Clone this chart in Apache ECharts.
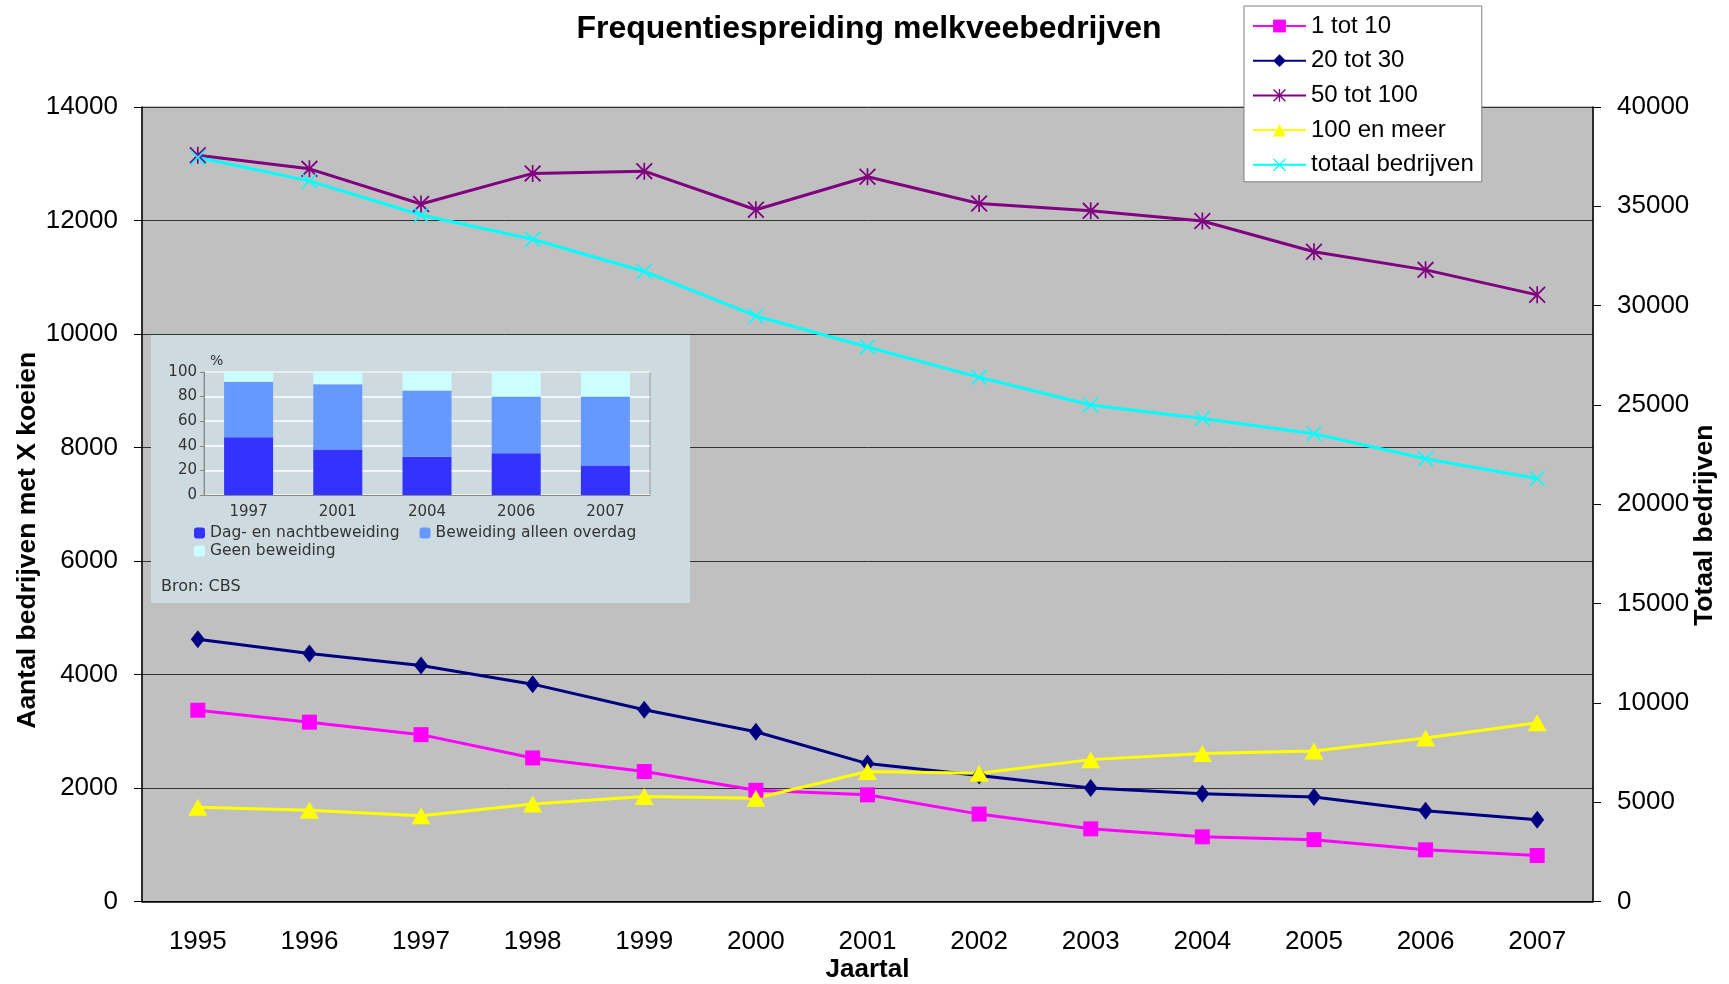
<!DOCTYPE html>
<html>
<head>
<meta charset="utf-8">
<script src="https://cdn.jsdelivr.net/npm/echarts@6/dist/echarts.min.js"></script>
<style>
  html, body { margin: 0; padding: 0; background: #fff; }
  #main { width: 1729px; height: 984px; }
</style>
</head>
<body>
<div id="main"></div>
<script>
// hoofdgrafiek
var jaren = ['1995', '1996', '1997', '1998', '1999', '2000', '2001', '2002', '2003', '2004', '2005', '2006', '2007'];
var tot1_10 = [3370, 3160, 2940, 2530, 2290, 1960, 1880, 1540, 1280, 1140, 1090, 910, 810];
var tot20_30 = [4620, 4370, 4160, 3830, 3380, 2990, 2430, 2220, 2000, 1900, 1840, 1600, 1440];
var tot50_100 = [13150, 12910, 12290, 12830, 12870, 12190, 12770, 12300, 12170, 11990, 11450, 11130, 10690];
var meer100 = [1660, 1610, 1510, 1720, 1850, 1820, 2290, 2260, 2500, 2610, 2650, 2880, 3150];
var totaal = [37460, 36280, 34560, 33340, 31720, 29480, 27920, 26390, 25000, 24320, 23550, 22290, 21300];

// ingevoegde grafiek (CBS)
var insetJaren = ['1997', '2001', '2004', '2006', '2007'];
var dagNacht = [47, 37, 31, 34, 24];
var overdag = [45, 53, 54, 46, 56];
var geen = [8, 10, 15, 20, 20];

var ster = 'path://M9,0 L11,0 L11,20 L9,20 Z M0,1.5 L1.5,0 L20,18.5 L18.5,20 Z M18.5,0 L20,1.5 L1.5,20 L0,18.5 Z';
var kruis = 'path://M0,1.4 L1.4,0 L20,18.6 L18.6,20 Z M18.6,0 L20,1.4 L1.4,20 L0,18.6 Z';

var font = 'Liberation Sans, Arial, sans-serif';
var insetFont = 'DejaVu Sans, Verdana, sans-serif';

var chart = echarts.init(document.getElementById('main'));

function lijn(name, data, color, symbol, size, yIdx) {
  return {
    name: name,
    type: 'line',
    yAxisIndex: yIdx,
    data: data,
    symbol: symbol,
    symbolSize: size,
    lineStyle: { color: color, width: 3 },
    itemStyle: { color: color },
    z: 3
  };
}

function plain(v) { return String(v); }

var option = {
  animation: false,
  backgroundColor: '#fff',
  textStyle: { fontFamily: font },
  title: [
    {
      text: 'Frequentiespreiding melkveebedrijven',
      left: 864,
      textAlign: 'center',
      top: 8,
      textStyle: { fontFamily: font, fontSize: 32, fontWeight: 'bold', color: '#000' }
    },
    {
      text: 'Bron: CBS',
      left: 156,
      top: 574,
      z: 8,
      textStyle: { fontFamily: insetFont, fontSize: 16, fontWeight: 'normal', color: '#333' }
    }
  ],
  legend: [
    {
      data: ['1 tot 10', '20 tot 30', '50 tot 100', '100 en meer', 'totaal bedrijven'],
      orient: 'vertical',
      left: 1244,
      top: 6,
      padding: [8, 8, 5, 8],
      itemWidth: 53,
      itemHeight: 16,
      itemGap: 10.7,
      backgroundColor: '#fff',
      borderColor: '#808080',
      borderWidth: 1,
      borderRadius: 0,
      textStyle: { fontFamily: font, fontSize: 24, color: '#000', lineHeight: 24 }
    },
    {
      data: ['Dag- en nachtbeweiding', 'Beweiding alleen overdag'],
      left: 194,
      top: 525,
      padding: 0,
      itemWidth: 11,
      itemHeight: 11,
      itemGap: 20,
      z: 8,
      textStyle: { fontFamily: insetFont, fontSize: 15.5, color: '#333' }
    },
    {
      data: ['Geen beweiding'],
      left: 194,
      top: 543,
      padding: 0,
      itemWidth: 11,
      itemHeight: 11,
      z: 8,
      textStyle: { fontFamily: insetFont, fontSize: 15.5, color: '#333' }
    }
  ],
  graphic: [
    {
      type: 'rect',
      z: 6,
      shape: { x: 151, y: 335, width: 539, height: 268 },
      style: { fill: '#cddbe1' }
    }
  ],
  grid: [
    {
      left: 142,
      right: 136,
      top: 107,
      bottom: 82.5,
      outerBoundsMode: 'none',
      containLabel: false,
      show: true,
      backgroundColor: '#c0c0c0',
      borderColor: '#808080',
      borderWidth: 1
    },
    {
      left: 204,
      top: 372,
      width: 446,
      height: 123,
      outerBoundsMode: 'none',
      containLabel: false,
      show: true,
      z: 7,
      backgroundColor: 'transparent',
      borderColor: '#999',
      borderWidth: 1
    }
  ],
  xAxis: [
    {
      type: 'category',
      gridIndex: 0,
      data: jaren,
      name: 'Jaartal',
      nameLocation: 'middle',
      nameGap: 55,
      nameMoveOverlap: false,
      nameTextStyle: { fontFamily: font, fontSize: 26, fontWeight: 'bold', color: '#000' },
      axisLine: { lineStyle: { color: '#000', width: 1.5 } },
      axisTick: { length: 8, lineStyle: { color: '#000' } },
      axisLabel: { fontFamily: font, fontSize: 26, color: '#000', margin: 27 }
    },
    {
      type: 'category',
      gridIndex: 1,
      data: insetJaren,
      z: 8,
      axisLine: { lineStyle: { color: '#888' } },
      axisTick: { show: false },
      axisLabel: { fontFamily: insetFont, fontSize: 15, color: '#333', margin: 10 }
    }
  ],
  yAxis: [
    {
      type: 'value',
      gridIndex: 0,
      min: 0,
      max: 14000,
      interval: 2000,
      name: 'Aantal bedrijven met X koeien',
      nameLocation: 'middle',
      nameGap: 101,
      nameMoveOverlap: false,
      nameTextStyle: { fontFamily: font, fontSize: 26.5, fontWeight: 'bold', color: '#000', padding: [0, 72, 0, 0] },
      axisLine: { show: true, lineStyle: { color: '#000', width: 1.5 } },
      axisTick: { show: true, length: 8, lineStyle: { color: '#000' } },
      axisLabel: { fontFamily: font, fontSize: 26, color: '#000', margin: 24, formatter: plain },
      splitLine: { show: true, lineStyle: { color: '#333', width: 1 } }
    },
    {
      type: 'value',
      gridIndex: 0,
      position: 'right',
      min: 0,
      max: 40000,
      interval: 5000,
      name: 'Totaal bedrijven',
      nameLocation: 'middle',
      nameGap: 98,
      nameMoveOverlap: false,
      nameTextStyle: { fontFamily: font, fontSize: 26.5, fontWeight: 'bold', color: '#000', padding: [0, 42, 0, 0] },
      axisLine: { show: true, lineStyle: { color: '#000', width: 1.5 } },
      axisTick: { show: true, length: 8, lineStyle: { color: '#000' } },
      axisLabel: { fontFamily: font, fontSize: 26, color: '#000', margin: 24, formatter: plain },
      splitLine: { show: false }
    },
    {
      type: 'value',
      gridIndex: 1,
      min: 0,
      max: 100,
      interval: 20,
      z: 8,
      name: '%',
      nameLocation: 'end',
      nameGap: 4,
      nameTextStyle: { fontFamily: insetFont, fontSize: 14, color: '#333', align: 'left', padding: [0, 0, 0, 6] },
      axisLine: { show: true, lineStyle: { color: '#888' } },
      axisTick: { show: true, length: 4, lineStyle: { color: '#888' } },
      axisLabel: { fontFamily: insetFont, fontSize: 15, color: '#333', margin: 7 },
      splitLine: { show: true, lineStyle: { color: '#fff', width: 1.5 } }
    }
  ],
  series: [
    lijn('1 tot 10', tot1_10, '#ff00ff', 'rect', 15, 0),
    lijn('20 tot 30', tot20_30, '#000080', 'diamond', [14, 18], 0),
    lijn('50 tot 100', tot50_100, '#800080', ster, 17, 0),
    lijn('100 en meer', meer100, '#ffff00', 'triangle', [19, 17], 0),
    lijn('totaal bedrijven', totaal, '#00ffff', kruis, 16, 1),
    {
      name: 'Dag- en nachtbeweiding',
      type: 'bar',
      xAxisIndex: 1,
      yAxisIndex: 2,
      stack: 'weide',
      barWidth: 49,
      z: 8,
      itemStyle: { color: '#3333ff' },
      data: dagNacht
    },
    {
      name: 'Beweiding alleen overdag',
      type: 'bar',
      xAxisIndex: 1,
      yAxisIndex: 2,
      stack: 'weide',
      barWidth: 49,
      z: 8,
      itemStyle: { color: '#6699ff' },
      data: overdag
    },
    {
      name: 'Geen beweiding',
      type: 'bar',
      xAxisIndex: 1,
      yAxisIndex: 2,
      stack: 'weide',
      barWidth: 49,
      z: 8,
      itemStyle: { color: '#ccffff' },
      data: geen
    }
  ]
};

chart.setOption(option);
</script>
</body>
</html>
